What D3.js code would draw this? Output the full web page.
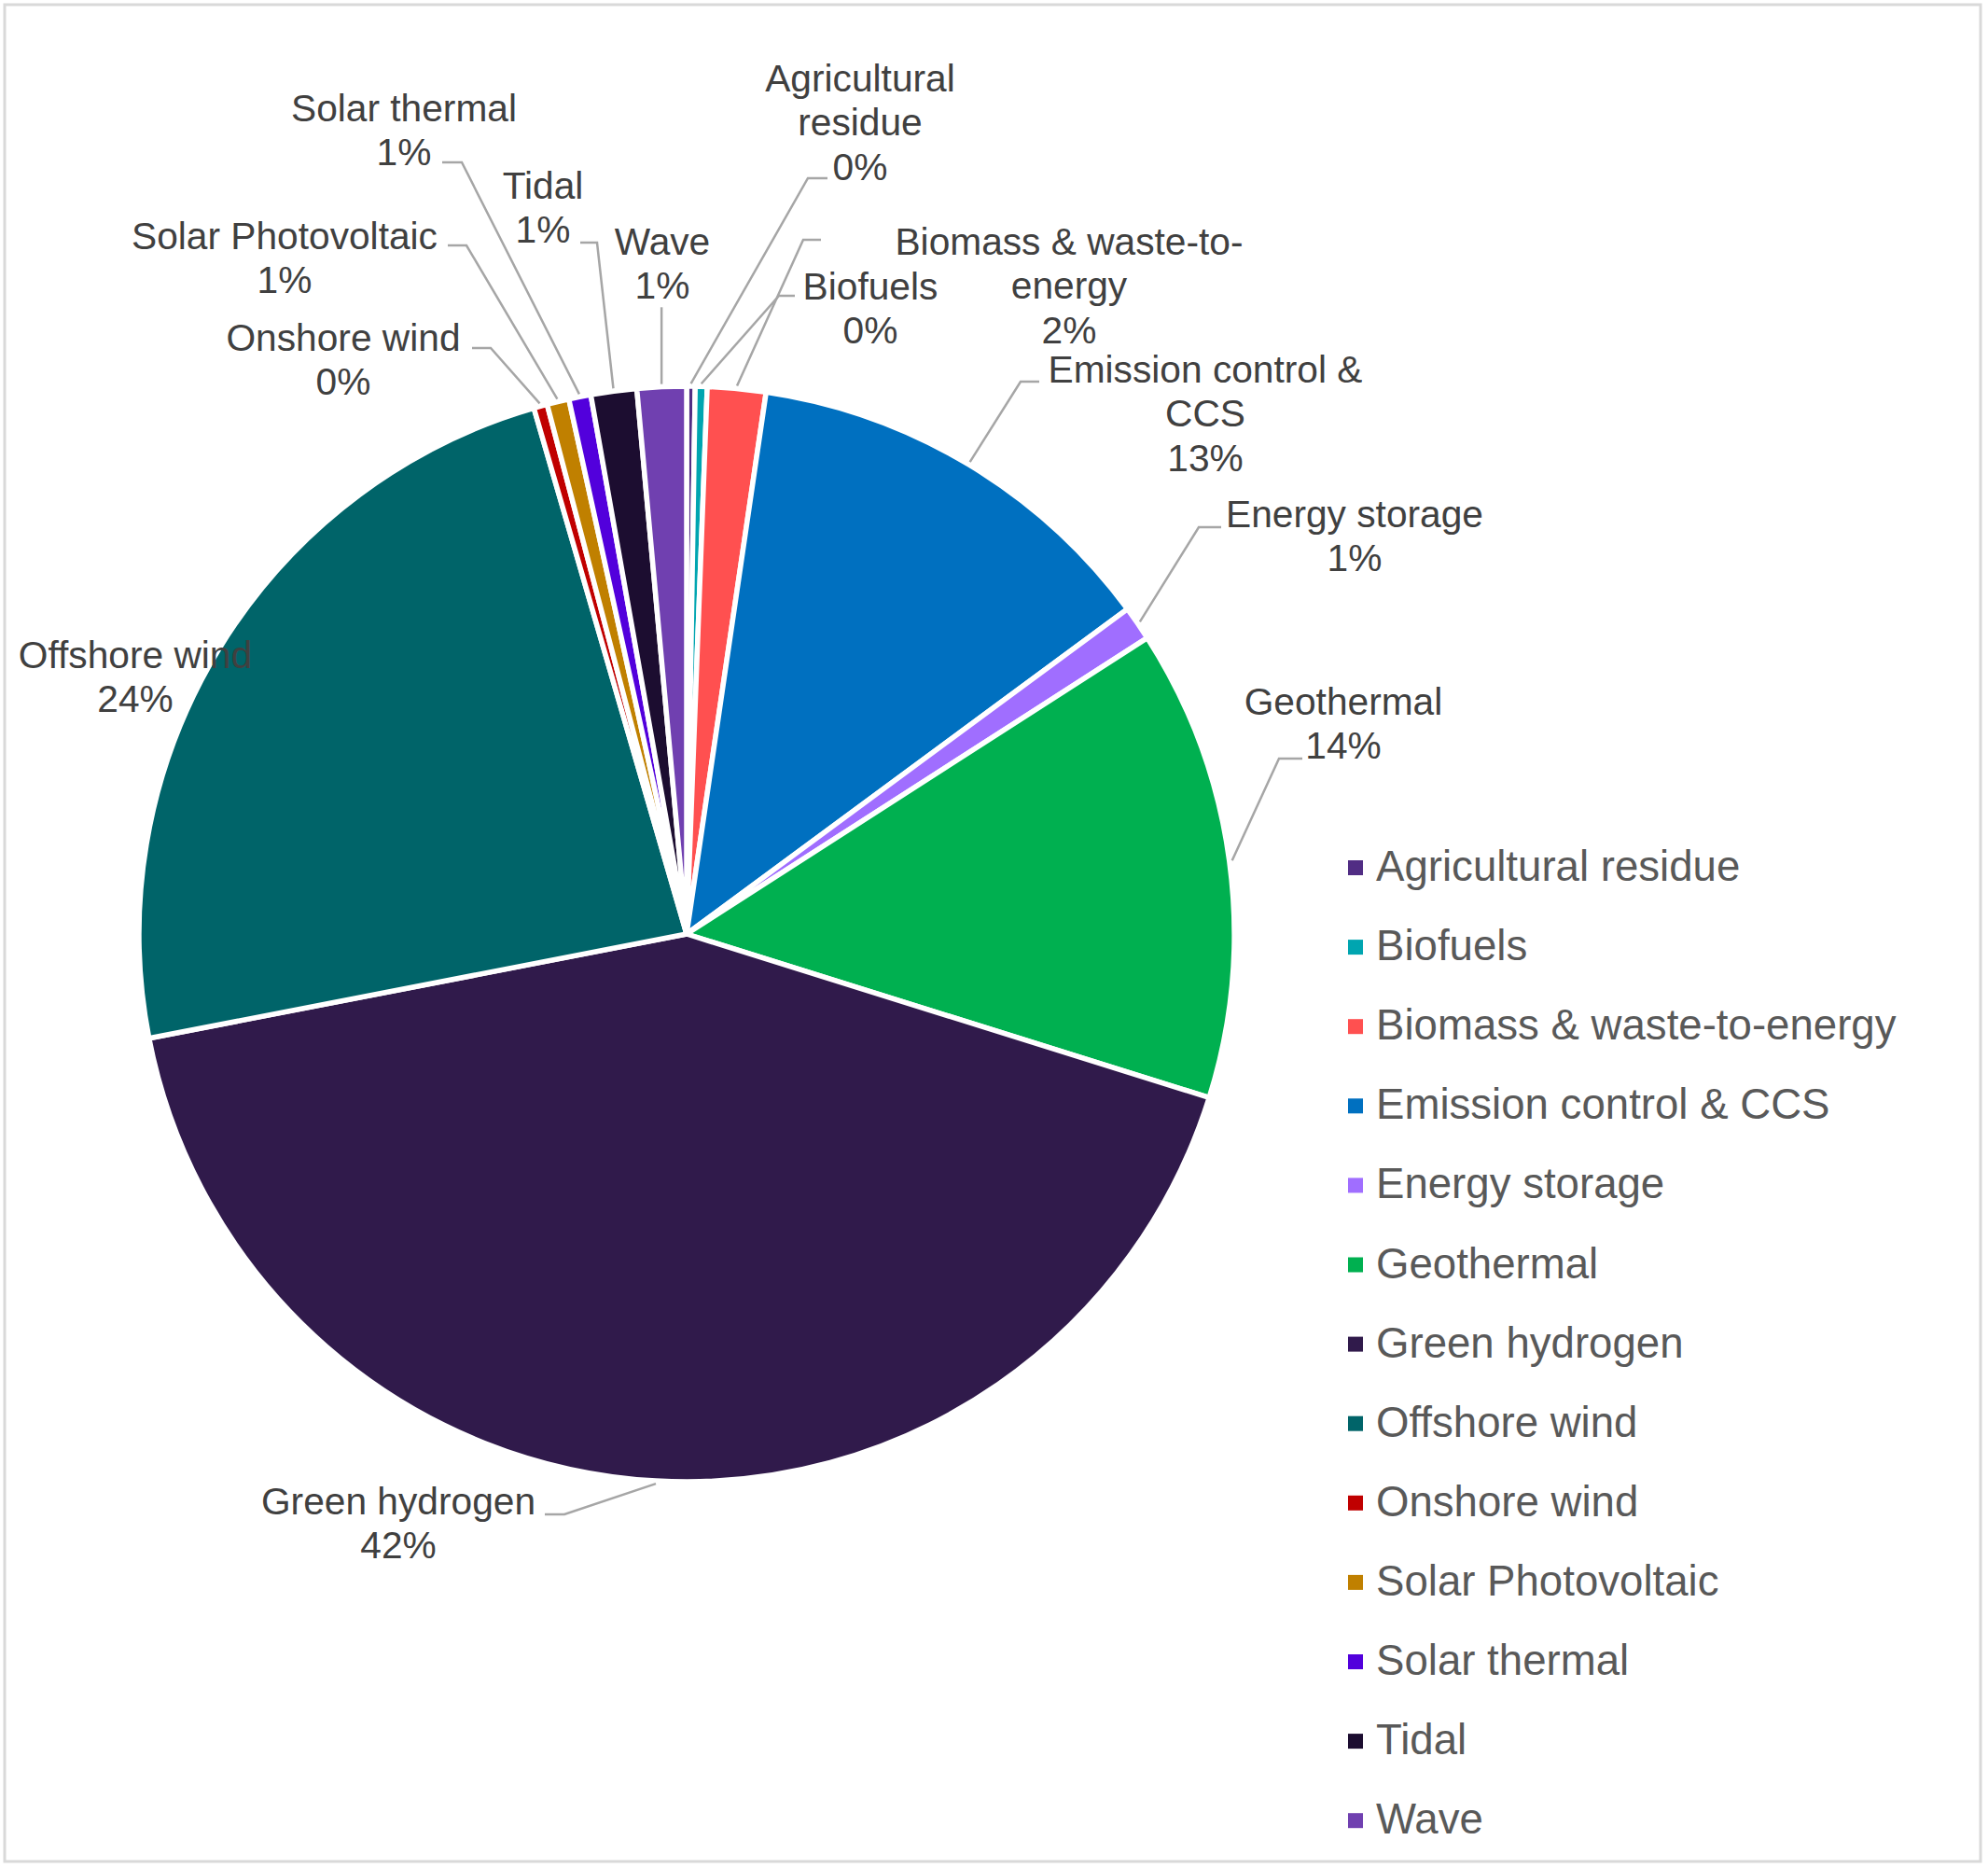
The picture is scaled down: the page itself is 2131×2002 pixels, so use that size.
<!DOCTYPE html>
<html>

<head>
    <meta charset="UTF-8">
    <title>Investment by technology</title>
    <style>
        body { margin: 0; background: #fff; }
        svg { display: block; font-family: "Liberation Sans", Arial, sans-serif; }
    </style>
</head>

<body>
    <svg width="2131" height="2002"></svg>
    <script src="https://cdn.jsdelivr.net/npm/d3@7"></script>
    <script>
        // values (share of total, %)
        const categories = ["Agricultural residue", "Biofuels", "Biomass & waste-to-energy",
            "Emission control & CCS", "Energy storage", "Geothermal", "Green hydrogen",
            "Offshore wind", "Onshore wind", "Solar Photovoltaic", "Solar thermal", "Tidal", "Wave"];
        const shares = [0.25, 0.35, 1.72, 12.57, 1.02, 13.92, 42.12, 23.55, 0.4, 0.65, 0.65, 1.35, 1.45];
        const colors = ["#512d84", "#00a5b0", "#ff5050", "#0070c0", "#a06eff", "#00b050", "#301a4b",
            "#006469", "#c00000", "#c08000", "#5200dc", "#1c0d30", "#7040b0"];

        // label placement: text lines, centre x, first baseline, leader tick [x0, y, x1]
        const labelLayout = {
            "Agricultural residue": { lines: ["Agricultural", "residue"], x: 922, y: 98, tick: [887, 191, 866] },
            "Biofuels": { lines: ["Biofuels"], x: 933, y: 321, tick: [852, 317, 835] },
            "Biomass & waste-to-energy": { lines: ["Biomass & waste-to-", "energy"], x: 1146, y: 273, tick: [880, 257, 861] },
            "Emission control & CCS": { lines: ["Emission control &", "CCS"], x: 1292, y: 410, tick: [1114, 409, 1094] },
            "Energy storage": { lines: ["Energy storage"], x: 1452, y: 565, tick: [1309, 565, 1285] },
            "Geothermal": { lines: ["Geothermal"], x: 1440, y: 766, tick: [1396, 813, 1371] },
            "Green hydrogen": { lines: ["Green hydrogen"], x: 427, y: 1623, tick: [584, 1623, 605] },
            "Offshore wind": { lines: ["Offshore wind"], x: 145, y: 716, tick: null },
            "Onshore wind": { lines: ["Onshore wind"], x: 368, y: 376, tick: [506, 373, 526] },
            "Solar Photovoltaic": { lines: ["Solar Photovoltaic"], x: 305, y: 267, tick: [480, 263, 500] },
            "Solar thermal": { lines: ["Solar thermal"], x: 433, y: 130, tick: [474, 174, 495] },
            "Tidal": { lines: ["Tidal"], x: 582, y: 213, tick: [622, 260, 640] },
            "Wave": { lines: ["Wave"], x: 710, y: 273, tick: "vertical" }
        };

        const svg = d3.select("svg"),
            cx = 736, cy = 1001, radius = 587,
            lineH = 47.3;

        // outer frame
        svg.append("rect")
            .attr("x", 5).attr("y", 5)
            .attr("width", 2118).attr("height", 1990)
            .attr("fill", "none")
            .attr("stroke", "#d9d9d9")
            .attr("stroke-width", 3);

        const data = categories.map((c, i) => ({ name: c, value: shares[i], color: colors[i] }));
        const total = d3.sum(shares);

        const pie = d3.pie().sort(null).value(d => d.value);
        const arcs = pie(data);
        const arc = d3.arc().innerRadius(0).outerRadius(radius);
        const edge = d3.arc().innerRadius(radius + 3).outerRadius(radius + 3);

        const g = svg.append("g").attr("transform", `translate(${cx},${cy})`);

        g.selectAll("path.slice")
            .data(arcs)
            .enter().append("path")
            .attr("class", "slice")
            .attr("d", arc)
            .attr("fill", d => d.data.color)
            .attr("stroke", "#fff")
            .attr("stroke-width", 5.5)
            .attr("stroke-linejoin", "round");

        // leader lines
        const leaders = svg.append("g")
            .attr("fill", "none")
            .attr("stroke", "#a6a6a6")
            .attr("stroke-width", 2.5);

        arcs.forEach(d => {
            const lay = labelLayout[d.data.name];
            if (!lay.tick) return;
            const [px, py] = edge.centroid(d);
            const ex = cx + px, ey = cy + py;
            let pts;
            if (lay.tick === "vertical") {
                pts = [[ex, lay.y + lineH + 9], [ex, ey]];
            } else {
                const [x0, y, x1] = lay.tick;
                pts = [[x0, y], [x1, y], [ex, ey]];
            }
            leaders.append("path").attr("d", d3.line()(pts));
        });

        // data labels
        const labels = svg.append("g")
            .attr("fill", "#404040")
            .attr("font-size", 40.7)
            .attr("text-anchor", "middle");

        arcs.forEach(d => {
            const lay = labelLayout[d.data.name];
            const pct = Math.round(d.data.value / total * 100) + "%";
            const t = labels.append("text");
            lay.lines.concat([pct]).forEach((line, i) => {
                t.append("tspan")
                    .attr("x", lay.x)
                    .attr("y", lay.y + i * lineH)
                    .text(line);
            });
        });

        // legend
        const legend = svg.append("g")
            .attr("transform", "translate(1445,944)");

        const item = legend.selectAll("g")
            .data(data)
            .enter().append("g")
            .attr("transform", (d, i) => `translate(0,${i * 85.1})`);

        item.append("rect")
            .attr("x", 0).attr("y", -22)
            .attr("width", 16).attr("height", 16)
            .attr("fill", d => d.color);

        item.append("text")
            .attr("x", 30)
            .attr("fill", "#595959")
            .attr("font-size", 45.6)
            .text(d => d.name);
    </script>
</body>

</html>
